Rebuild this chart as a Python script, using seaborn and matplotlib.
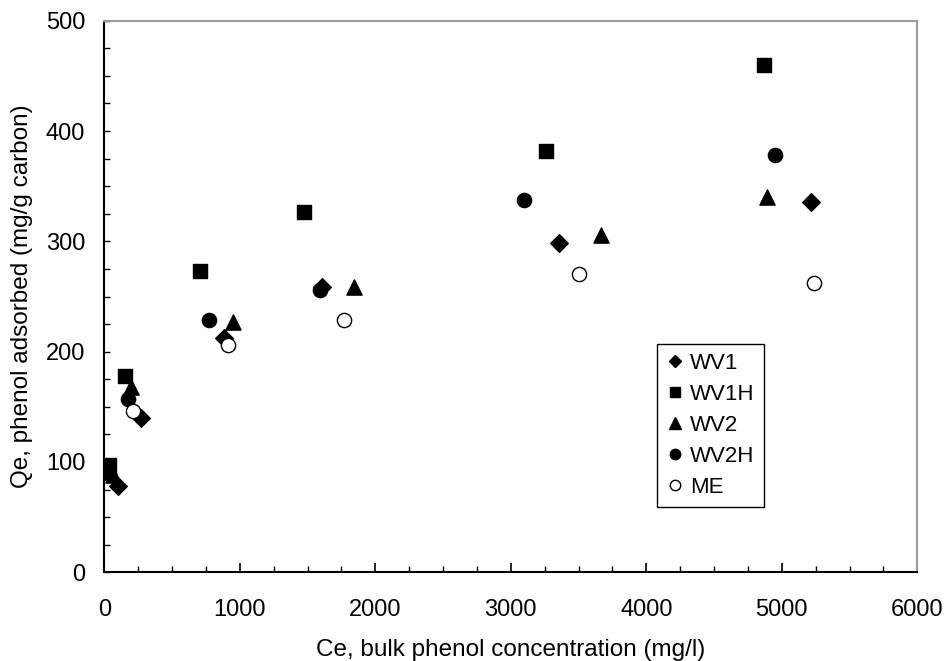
import matplotlib
matplotlib.use("Agg")
import matplotlib.pyplot as plt
from matplotlib.ticker import MultipleLocator
from matplotlib.lines import Line2D
import seaborn as sns
import pandas as pd

# ---- data ----
wv1_x = [98, 271, 880, 1607, 3353, 5218]
wv1_y = [78.5, 139.5, 212.6, 258.4, 298.3, 335.8]

wv1h_x = [37, 150, 703, 1471, 3262, 4866]
wv1h_y = [97, 177.5, 273.5, 327, 381.6, 459.9]

wv2_x = [62, 199, 947, 1843, 3665, 4890]
wv2_y = [88, 167.6, 226.7, 258.4, 306, 340]

wv2h_x = [35, 172, 773, 1594, 3095, 4947]
wv2h_y = [89.5, 157.3, 229, 256, 337.9, 378.3]

me_x = [212, 913, 1771, 3500, 5240]
me_y = [145.8, 205.9, 228.9, 270.6, 262.4]

series_names = ["WV1", "WV1H", "WV2", "WV2H", "ME"]
x_label = "Ce, bulk phenol concentration (mg/l)"
y_label = "Qe, phenol adsorbed (mg/g carbon)"

frames = []
for name, xs, ys in zip(series_names,
                        [wv1_x, wv1h_x, wv2_x, wv2h_x, me_x],
                        [wv1_y, wv1h_y, wv2_y, wv2h_y, me_y]):
    frames.append(pd.DataFrame({"Ce": xs, "Qe": ys, "series": name}))
df = pd.concat(frames, ignore_index=True)

sns.set_theme(style="white")
plt.rcParams["font.family"] = ["Liberation Sans", "DejaVu Sans"]
plt.rcParams["text.color"] = "black"
plt.rcParams["axes.labelcolor"] = "black"
plt.rcParams["xtick.color"] = "black"
plt.rcParams["ytick.color"] = "black"

styles = {
    "WV1": dict(marker="D", s=80, facecolor="black", edgecolor="black"),
    "WV1H": dict(marker="s", s=95, facecolor="black", edgecolor="black"),
    "WV2": dict(marker="^", s=120, facecolor="black", edgecolor="black"),
    "WV2H": dict(marker="o", s=105, facecolor="black", edgecolor="black"),
    "ME": dict(marker="o", s=105, facecolor="white", edgecolor="black"),
}

fig = plt.figure(figsize=(9.46, 6.61), dpi=100)
ax = fig.add_axes([104.3 / 946, 1 - 572.3 / 661, (917.3 - 104.3) / 946, (572.3 - 20.7) / 661])

for name in series_names:
    st = styles[name]
    sub = df[df["series"] == name]
    sns.scatterplot(data=sub, x="Ce", y="Qe", ax=ax, marker=st["marker"], s=st["s"],
                    color=st["facecolor"], edgecolor=st["edgecolor"], linewidth=1.0,
                    legend=False, zorder=3)

ax.set_xlim(0, 6000)
ax.set_ylim(0, 500)
ax.xaxis.set_major_locator(MultipleLocator(1000))
ax.xaxis.set_minor_locator(MultipleLocator(250))
ax.yaxis.set_major_locator(MultipleLocator(100))
ax.yaxis.set_minor_locator(MultipleLocator(25))

for side in ["left", "bottom"]:
    ax.spines[side].set_color("black")
    ax.spines[side].set_linewidth(1.5)
for side in ["top", "right"]:
    ax.spines[side].set_color("#999999")
    ax.spines[side].set_linewidth(1.5)
    ax.spines[side].set_visible(True)

ax.tick_params(axis="x", which="major", direction="in", length=6.5, width=1.2,
               color="black", labelsize=17, pad=19.5, bottom=True, top=False)
ax.tick_params(axis="x", which="minor", direction="in", length=4.5, width=1.0,
               color="black", bottom=True, top=False)
ax.tick_params(axis="y", which="both", direction="in", length=4.5, width=1.0,
               color="black", left=True, right=False)
ax.tick_params(axis="y", which="major", labelsize=17, pad=13.7)

ax.set_xlabel(x_label, fontsize=17.5, labelpad=13)
ax.set_ylabel(y_label, fontsize=17.5, labelpad=9.5)

handles = []
for name in series_names:
    st = styles[name]
    handles.append(Line2D([], [], linestyle="none", marker=st["marker"],
                          markerfacecolor=st["facecolor"], markeredgecolor="black",
                          markeredgewidth=1.0,
                          markersize={"D": 6.5, "s": 7.5, "^": 8, "o": 7.5}[st["marker"]],
                          label=name))
leg = ax.legend(handles=handles, loc="upper left",
                bbox_to_anchor=((657 - 104.3) / 813, (572.3 - 344) / 551.6),
                fontsize=16, frameon=True, fancybox=False, shadow=False,
                handlelength=0.8, handletextpad=0.3, labelspacing=0.45,
                borderpad=0.4, borderaxespad=0.0)
leg.get_frame().set_edgecolor("black")
leg.get_frame().set_linewidth(1.0)
leg.get_frame().set_alpha(1)

fig.savefig("out.png", dpi=100, facecolor="white")
